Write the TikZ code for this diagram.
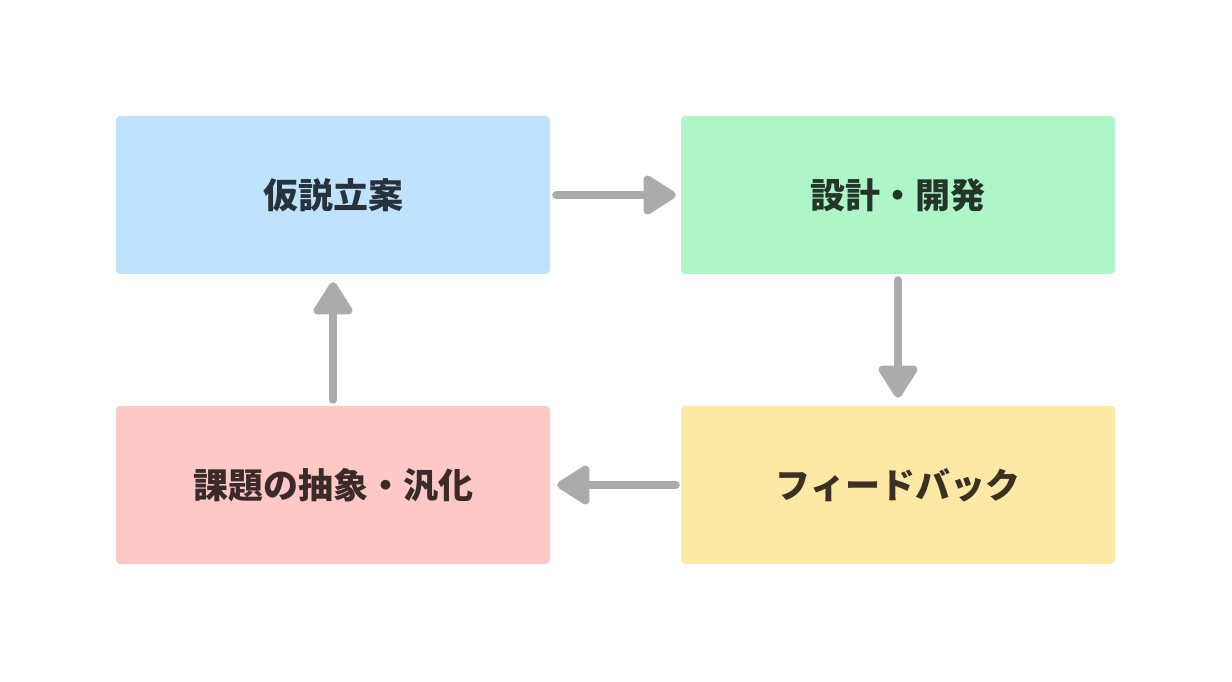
\documentclass[tikz,border=0pt]{standalone}
\usepackage{fontspec}
\newfontfamily\cjk{Noto Sans CJK JP}
\usetikzlibrary{arrows.meta}
\definecolor{bluebox}{HTML}{BFE3FD}
\definecolor{greenbox}{HTML}{AEF5C8}
\definecolor{redbox}{HTML}{FDC8C5}
\definecolor{yellowbox}{HTML}{FEE8A6}
\definecolor{bluetext}{HTML}{27323C}
\definecolor{greentext}{HTML}{24352A}
\definecolor{redtext}{HTML}{3A2A2A}
\definecolor{yellowtext}{HTML}{3A3122}
\definecolor{arrowgrey}{HTML}{ABABAB}
\tikzset{
  stagebox/.style={rectangle, rounded corners=4pt, minimum width=434pt, minimum height=158pt, inner sep=0pt, font=\cjk\bfseries\fontsize{35pt}{40pt}\selectfont},
  flow/.style={draw=arrowgrey, line width=8pt, line cap=round, -{Triangle[round, length=36pt, width=43pt]}}
}
\begin{document}
\begin{tikzpicture}[x=1pt,y=1pt]
\useasboundingbox (0,0) rectangle (1232,681);
\node[stagebox, fill=bluebox, text=bluetext] (hyp) at (333,486) {仮説立案};
\node[stagebox, fill=greenbox, text=greentext] (dev) at (898,486) {設計・開発};
\node[stagebox, fill=yellowbox, text=yellowtext] (fb) at (898,196) {フィードバック};
\node[stagebox, fill=redbox, text=redtext] (abs) at (333,196) {課題の抽象・汎化};
\draw[flow, shorten <=6pt, shorten >=5pt] (hyp.east) -- (dev.west);
\draw[flow, shorten <=6pt, shorten >=8pt] (dev.south) -- (fb.north);
\draw[flow, shorten <=5pt, shorten >=7pt] (fb.west) -- (abs.east);
\draw[flow, shorten <=6pt, shorten >=8pt] (abs.north) -- (hyp.south);
\end{tikzpicture}
\end{document}
